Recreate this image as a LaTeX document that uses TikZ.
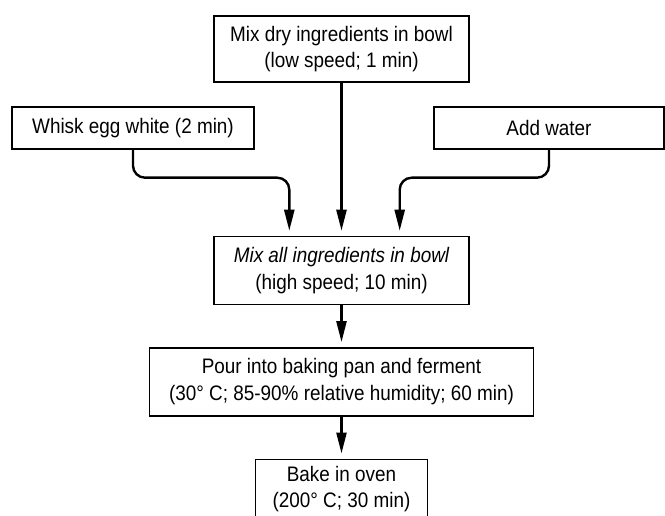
\documentclass[tikz,border=0pt]{standalone}
\usepackage{fontspec}
\setmainfont[FakeStretch=0.9]{Liberation Sans}
\usetikzlibrary{positioning}
\usetikzlibrary{calc}
\usetikzlibrary{arrows.meta}
\tikzstyle{block} = [draw, rectangle, line width=1.4pt, align=center, inner sep=0pt, font=\fontsize{21}{26.5}\selectfont]
\tikzstyle{coord} = [coordinate]
\tikzstyle{flow} = [line width=2.4pt, -{Triangle[length=21pt,width=10pt]}, shorten >=5pt]

\begin{document}
\begin{tikzpicture}[x=1pt,y=1pt,node distance=42pt]
    \useasboundingbox (0,0) rectangle (665,-516);
    \node [block, minimum width=255pt, minimum height=66pt] (drymix) at (341.5,-49) {Mix dry ingredients in bowl\\(low speed; 1 min)};
    \node [block, minimum width=242pt, minimum height=42pt] (egg) at (133,-128) {Whisk egg white (2 min)};
    \node [block, minimum width=230pt, minimum height=42pt] (water) at (549,-128) {Add water};
    \node [block, below = 153pt of drymix, minimum width=255pt, minimum height=68pt] (allmix) {{\itshape Mix all ingredients in bowl}\\(high speed; 10 min)};
    \node [block, below = of allmix, minimum width=384pt, minimum height=68pt] (ferment) {Pour into baking pan and ferment\\(30\textdegree{} C; 85-90\% relative humidity; 60 min)};
    \node [block, below = of ferment, minimum width=172pt, minimum height=60pt] (bake) {Bake in oven\\(200\textdegree{} C; 30 min)};

    \coordinate (eggin) at ($(allmix.north west)+(76,0)$); % inlets
    \coordinate (waterin) at ($(allmix.north east)+(-70,0)$);

    \draw [flow, rounded corners=12pt] (egg.south) |- ($(eggin)+(0,58)$) -- (eggin);
    \draw [flow] (drymix) -- (allmix);
    \draw [flow, rounded corners=12pt] (water.south) |- ($(waterin)+(0,58)$) -- (waterin);
    \draw [flow] (allmix) -- (ferment);
    \draw [flow] (ferment) -- (bake);
\end{tikzpicture}
\end{document}
